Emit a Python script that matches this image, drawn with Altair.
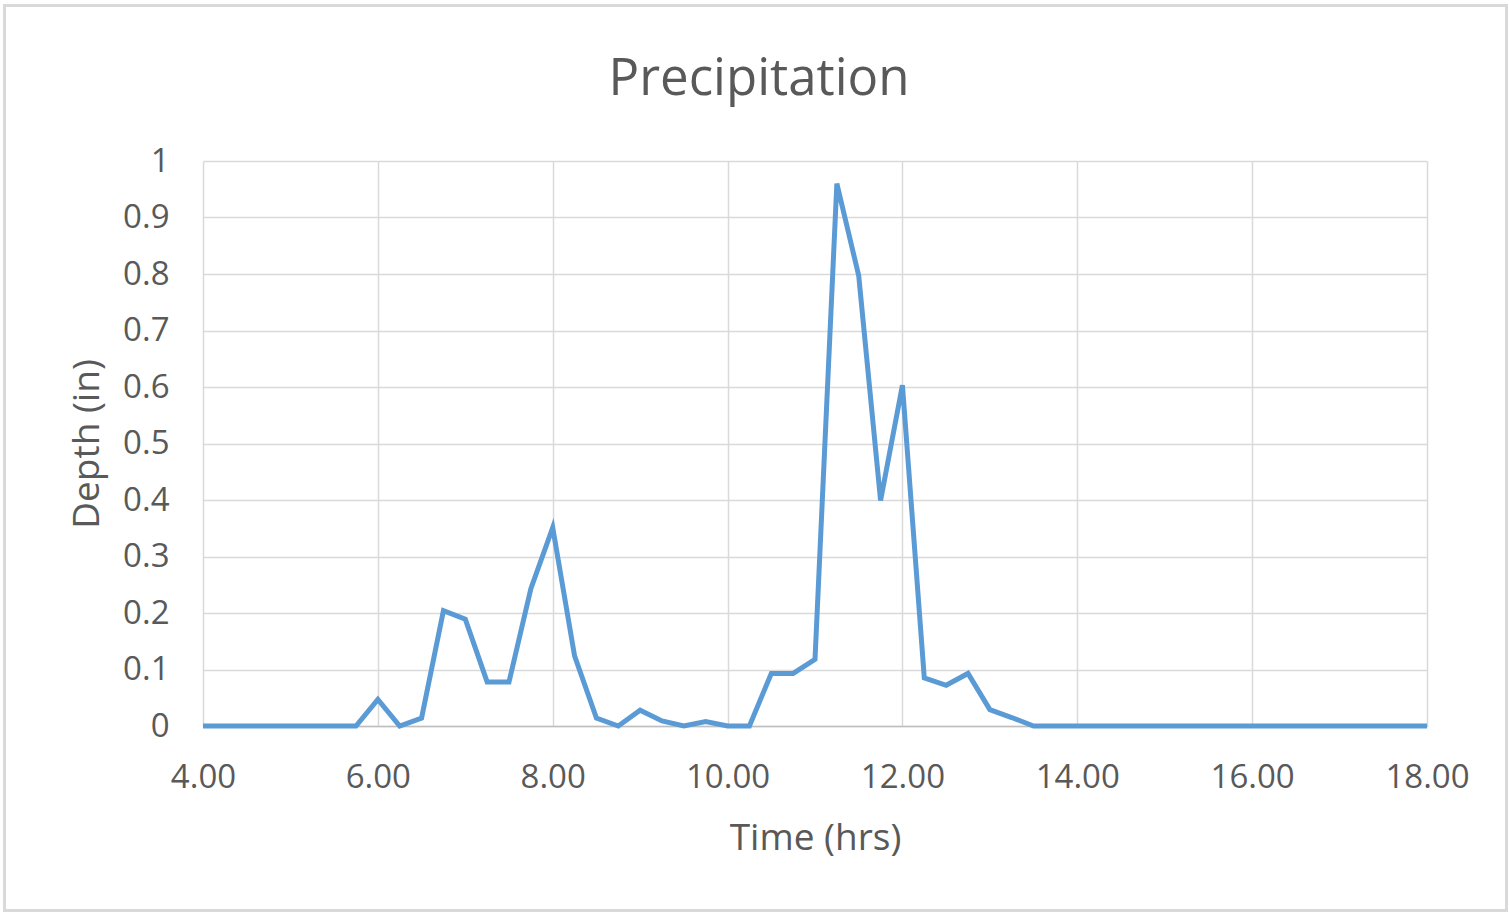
import altair as alt
import pandas as pd

times = [4.00, 4.25, 4.50, 4.75, 5.00, 5.25, 5.50, 5.75,
         6.00, 6.25, 6.50, 6.75, 7.00, 7.25, 7.50, 7.75,
         8.00, 8.25, 8.50, 8.75, 9.00, 9.25, 9.50, 9.75,
         10.00, 10.25, 10.50, 10.75, 11.00, 11.25, 11.50, 11.75,
         12.00, 12.25, 12.50, 12.75, 13.00, 13.25, 13.50, 13.75,
         14.00, 14.25, 14.50, 14.75, 15.00, 15.25, 15.50, 15.75,
         16.00, 16.25, 16.50, 16.75, 17.00, 17.25, 17.50, 17.75,
         18.00]
depth = [0, 0, 0, 0, 0, 0, 0, 0,
         0.047, 0, 0.014, 0.204, 0.189, 0.078, 0.078, 0.243,
         0.351, 0.124, 0.014, 0, 0.028, 0.009, 0, 0.008,
         0, 0, 0.093, 0.093, 0.118, 0.960, 0.797, 0.399,
         0.603, 0.085, 0.072, 0.093, 0.029, 0.015, 0, 0,
         0, 0, 0, 0, 0, 0, 0, 0,
         0, 0, 0, 0, 0, 0, 0, 0,
         0]
x_ticks = [4, 6, 8, 10, 12, 14, 16, 18]
y_ticks = [0, 0.1, 0.2, 0.3, 0.4, 0.5, 0.6, 0.7, 0.8, 0.9, 1.0]
chart_title = "Precipitation"

df = pd.DataFrame({"time": times, "depth": depth})

FONT = "Open Sans"
GREY = "#595959"

line = alt.Chart(df).mark_line(color="#5B9BD5", strokeWidth=5, strokeJoin="miter").encode(
    x=alt.X("time:Q",
            scale=alt.Scale(domain=[4, 18], nice=False, zero=False),
            axis=alt.Axis(values=x_ticks, format=".2f", title="Time (hrs)",
                          grid=True, gridColor="#D9D9D9", gridWidth=1.5,
                          domain=True, domainColor="#BFBFBF", domainWidth=1.5,
                          ticks=False, labelFontSize=33, labelColor=GREY, labelFont=FONT,
                          labelPadding=35, labelFlush=False,
                          titleFontSize=37, titleColor=GREY, titleFont=FONT,
                          titleFontWeight="normal", titlePadding=26)),
    y=alt.Y("depth:Q",
            scale=alt.Scale(domain=[0, 1], nice=False),
            axis=alt.Axis(values=y_ticks, format="~g", title="Depth (in)",
                          grid=True, gridColor="#D9D9D9", gridWidth=1.5,
                          domain=False, ticks=False,
                          labelFontSize=33, labelColor=GREY, labelFont=FONT,
                          labelPadding=34, labelFlush=False,
                          titleFontSize=37, titleColor=GREY, titleFont=FONT,
                          titleFontWeight="normal", titlePadding=16)),
)

title_text = alt.Chart(pd.DataFrame({"t": [chart_title]})).mark_text(
    font=FONT, fontSize=51, color=GREY, align="center", baseline="middle"
).encode(text="t:N", x=alt.value(556), y=alt.value(-81))

border = alt.Chart(pd.DataFrame({"a": [0]})).mark_rect(
    fillOpacity=0, stroke="#D9D9D9", strokeWidth=3
).encode(x=alt.value(-198.5), x2=alt.value(1303.5), y=alt.value(-155.5), y2=alt.value(749.5))

chart = alt.layer(border, line, title_text).properties(
    width=1224, height=565,
    autosize=alt.AutoSizeParams(type="none"),
    padding={"left": 203, "top": 161, "right": 82, "bottom": 190},
    background="white",
).configure_view(strokeWidth=0)

chart.save("out.html", embed_options={"renderer": "svg", "actions": False})
